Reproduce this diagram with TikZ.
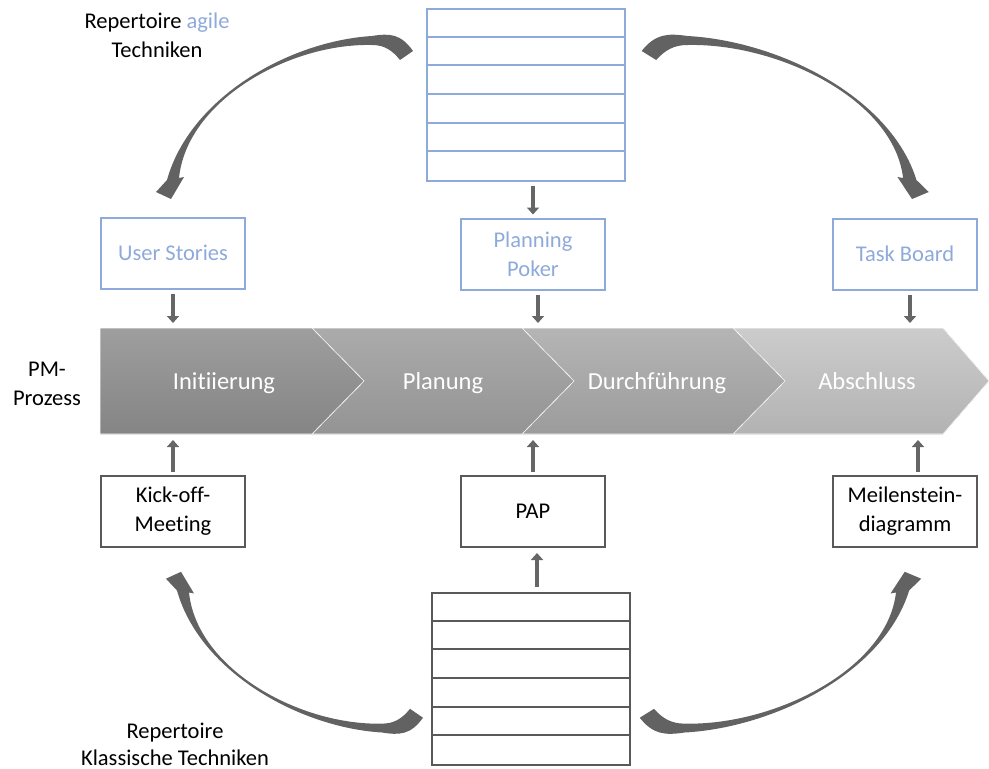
\documentclass[tikz,border=0pt]{standalone}
\usepackage{fontspec}
\setmainfont[Ligatures={NoCommon,NoRare}]{Carlito}
\usetikzlibrary{arrows.meta}

\definecolor{agileblue}{HTML}{8EAADB}
\definecolor{darkline}{HTML}{595959}
\definecolor{arrowgrey}{HTML}{626262}
\definecolor{stemgrey}{HTML}{666666}

% thick tapered curved arrow, drawn from tail (right) to head (lower left)
\newcommand{\techarrow}{%
  \fill[arrowgrey]
    (413,51) .. controls (401,34) and (390,33) .. (372,36)
    .. controls (290,41) and (190,97) .. (167,180)
    -- (156,192) -- (171,199) -- (184,177) -- (179,178)
    .. controls (187,100) and (290,43) .. (372,45)
    .. controls (384,45) and (392,50) .. (400,60) -- cycle;}

\begin{document}
\begin{tikzpicture}[x=1pt,y=-1pt,
  txt/.style={font=\fontsize{22.5}{29}\selectfont, align=center, inner sep=0pt},
  agilebox/.style={txt, draw=agileblue, line width=2pt, text=agileblue,
    minimum width=144pt, minimum height=71pt},
  classicbox/.style={txt, draw=darkline, line width=2pt, text=black,
    minimum width=144pt, minimum height=71pt},
  listbox/.style={line width=2pt, minimum width=198pt, minimum height=172pt, inner sep=0pt},
  bandtext/.style={font=\fontsize{24.5}{29}\selectfont, text=white, inner sep=0pt, anchor=base},
  smallarrow/.style={stemgrey, line width=4.5pt,
    -{Triangle[width=12pt,length=7pt]}},
  chevron/.style={draw=white, line width=0.6pt}
]
\useasboundingbox (0,0) rectangle (989,769);

% process band
\fill[chevron, top color=white!80!black, bottom color=white!70!black]
  (733,328) -- (943,328) -- (989,381) -- (943,434) -- (733,434) -- (785,381) -- cycle;
\fill[chevron, top color=white!71!black, bottom color=white!61!black]
  (522,328) -- (733,328) -- (785,381) -- (733,434) -- (522,434) -- (574,381) -- cycle;
\fill[chevron, top color=white!67!black, bottom color=white!58!black]
  (312,328) -- (522,328) -- (574,381) -- (522,434) -- (312,434) -- (364,381) -- cycle;
\fill[chevron, top color=white!62!black, bottom color=white!52!black]
  (100,328) -- (312,328) -- (364,381) -- (312,434) -- (100,434) -- cycle;

\node[bandtext] (init) at (224,389) {Initiierung};
\node[bandtext] (plan) at (443,389) {Planung};
\node[bandtext] (durch) at (657,389) {Durchführung};
\node[bandtext] (absch) at (867,389) {Abschluss};
\node[txt] (pm) at (47,384) {PM-\\Prozess};

\coordinate (bandtopA) at (173,328);
\coordinate (bandtopB) at (538,328);
\coordinate (bandtopC) at (910,328);
\coordinate (bandbotA) at (173,434);
\coordinate (bandbotB) at (533,434);
\coordinate (bandbotC) at (918,434);

% agile repertoire
\node[listbox, draw=agileblue] (agilelist) at (525.5,95) {};
\foreach \i in {1,...,5}
  \draw[agileblue, line width=2pt] ([yshift=-28.67*\i pt]agilelist.north west) -- ([yshift=-28.67*\i pt]agilelist.north east);
\node[txt] (agilelabel) at (157,35) {Repertoire \textcolor{agileblue}{agile}\\Techniken};

\node[agilebox] (us) at (173,253) {User Stories};
\node[agilebox] (pp) at (533,254) {Planning\\Poker};
\node[agilebox] (tb) at (905,254) {Task Board};

% classic repertoire
\node[listbox, draw=darkline] (classiclist) at (530.5,679) {};
\foreach \i in {1,...,5}
  \draw[darkline, line width=2pt] ([yshift=-28.67*\i pt]classiclist.north west) -- ([yshift=-28.67*\i pt]classiclist.north east);
\node[txt, font=\fontsize{22.5}{27}\selectfont] (classiclabel) at (175,744) {Repertoire\\Klassische Techniken};

\node[classicbox] (ko) at (173,511.5) {Kick-off-\\Meeting};
\node[classicbox] (pap) at (533,511.5) {PAP};
\node[classicbox] (ms) at (905,511.5) {Meilenstein-\\diagramm};

% short connectors
\draw[smallarrow, shorten <=4pt, shorten >=3pt] (pp.north |- agilelist.south) -- (pp.north);
\draw[smallarrow, shorten <=4pt, shorten >=5pt] (us.south) -- (bandtopA);
\draw[smallarrow, shorten <=4pt, shorten >=5pt] (pp.south -| bandtopB) -- (bandtopB);
\draw[smallarrow, shorten <=4pt, shorten >=5pt] (tb.south -| bandtopC) -- (bandtopC);
\draw[smallarrow, shorten <=3pt, shorten >=6pt] (ko.north) -- (bandbotA);
\draw[smallarrow, shorten <=3pt, shorten >=6pt] (pap.north -| bandbotB) -- (bandbotB);
\draw[smallarrow, shorten <=3pt, shorten >=6pt] (ms.north -| bandbotC) -- (bandbotC);
\draw[smallarrow, shorten <=5pt, shorten >=5pt] (classiclist.north -| 537,0) -- (pap.south -| 537,0);

% curved arrows from the two repertoires
\techarrow
\begin{scope}[xshift=1103pt, xscale=-1.117]
  \techarrow
\end{scope}
\begin{scope}[xshift=10pt, yshift=-768pt, yscale=-0.986]
  \techarrow
\end{scope}
\begin{scope}[xshift=1092pt, yshift=-768pt, xscale=-1.095, yscale=-0.986]
  \techarrow
\end{scope}
\end{tikzpicture}
\end{document}
